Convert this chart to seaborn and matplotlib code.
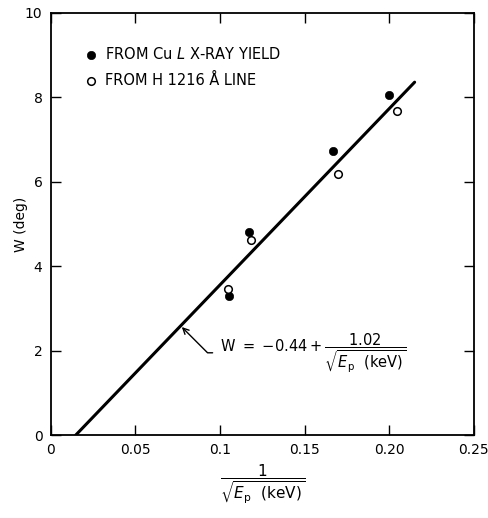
import pandas as pd
import matplotlib
matplotlib.use("Agg")
import matplotlib.pyplot as plt
import seaborn as sns

# points
cu_x = [0.105, 0.117, 0.167, 0.200]
cu_w = [3.29, 4.80, 6.73, 8.06]
h_x = [0.1045, 0.118, 0.170, 0.2045]
h_w = [3.47, 4.61, 6.18, 7.68]

# fitted straight line, end points
fit_x = [0.0147, 0.215]
fit_w = [0.0, 8.36]

x_ticks = [0, 0.05, 0.1, 0.15, 0.20, 0.25]
x_tick_labels = ["0", "0.05", "0.1", "0.15", "0.20", "0.25"]
y_ticks = [0, 2, 4, 6, 8, 10]

sns.set_style("ticks")
plt.rcParams["font.family"] = ["DejaVu Sans"]
plt.rcParams["mathtext.fontset"] = "dejavusans"
plt.rcParams.update({"text.color": "black", "axes.labelcolor": "black",
                     "xtick.color": "black", "ytick.color": "black",
                     "axes.edgecolor": "black"})

cu = pd.DataFrame({"x": cu_x, "w": cu_w})
hl = pd.DataFrame({"x": h_x, "w": h_w})
fit = pd.DataFrame({"x": fit_x, "w": fit_w})

fig = plt.figure(figsize=(4.89, 5.18), dpi=100)
ax = fig.add_axes([0.104, 0.160, 0.865, 0.815])

sns.lineplot(data=fit, x="x", y="w", color="black", linewidth=2.2, ax=ax)
sns.scatterplot(data=cu, x="x", y="w", color="black", edgecolor="black",
                s=36, marker="o", ax=ax, label="FROM Cu $\\it{L}$ X-RAY YIELD", zorder=3)
sns.scatterplot(data=hl, x="x", y="w", facecolor="white", edgecolor="black",
                linewidth=1.1, s=30, marker="o", ax=ax, label="FROM H 1216 Å LINE", zorder=3)

ax.set_xlim(0, 0.25)
ax.set_ylim(0, 10)
ax.set_xticks(x_ticks)
ax.set_xticklabels(x_tick_labels)
ax.set_yticks(y_ticks)
ax.tick_params(direction="in", top=True, right=True, length=7, width=1,
               labelsize=10, pad=6)
for sp in ax.spines.values():
    sp.set_linewidth(1.3)

ax.set_xlabel(r"$\dfrac{1}{\sqrt{E_\mathrm{p}\ \ (\mathrm{keV})}}$", fontsize=11, labelpad=4)
ax.set_ylabel("W (deg)", fontsize=10)
ax.yaxis.set_label_coords(-0.055, 0.5)

ax.annotate(r"$\mathrm{W}\ =\ {-}0.44 + \dfrac{1.02}{\sqrt{E_\mathrm{p}\ \ (\mathrm{keV})}}$",
            xy=(0.0774, 2.56), xytext=(0.1, 1.95), fontsize=10.5,
            va="center", ha="left",
            arrowprops=dict(arrowstyle="->", color="black", lw=1,
                            connectionstyle="angle,angleA=0,angleB=-45,rad=0",
                            shrinkA=3, shrinkB=0))

leg = ax.legend(loc="upper left", frameon=False, fontsize=10.5,
                handletextpad=0.4, borderaxespad=0.0, labelspacing=0.75,
                handlelength=1.0, bbox_to_anchor=(0.065, 0.935))

fig.savefig("out.png", dpi=100)
